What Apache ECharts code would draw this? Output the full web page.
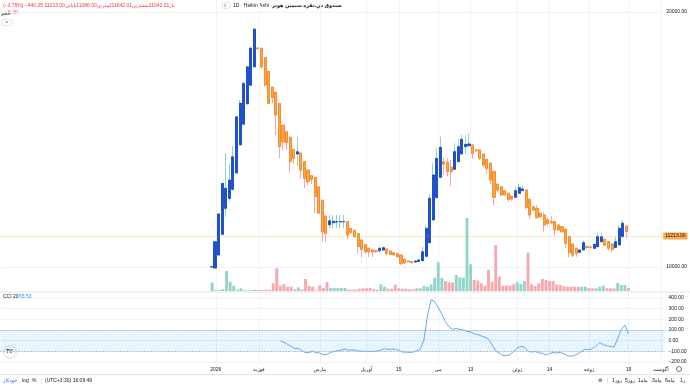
<!DOCTYPE html>
<html>
<head>
<meta charset="utf-8">
<title>Heikin Ashi</title>
<script src="https://cdn.jsdelivr.net/npm/echarts@6.0.0/dist/echarts.min.js"></script>
<style>
  html, body { margin: 0; padding: 0; background: #fff; }
  #main { width: 690px; height: 388px; }
</style>
</head>
<body>
<div id="main"></div>
<script>
// heikin ashi bars: [open, close, low, high]
const candles = [
  [10000, 10010, 9985, 10020], [9960, 10990, 9950, 10990], [10470, 12080, 10470, 12080],
  [11280, 13280, 11280, 13280], [12300, 13090, 11970, 14460], [12690, 13410, 12600, 14070],
  [13050, 14320, 13000, 14750], [13690, 15890, 13690, 15900], [14790, 16420, 14790, 16550],
  [15600, 17200, 15600, 17250], [16400, 17850, 16400, 17850], [17130, 18580, 17130, 18640],
  [17850, 19330, 17850, 19340], [18590, 18560, 18540, 18600], [18580, 17850, 17790, 18580],
  [18210, 17140, 17080, 18210], [17670, 16420, 16420, 17670], [17050, 16650, 16420, 17050],
  [16850, 15960, 15180, 16850], [16410, 14720, 14260, 16410], [15560, 14910, 14590, 15560],
  [15300, 14880, 14590, 15300], [15090, 14130, 13700, 15090], [14610, 14260, 14040, 14610],
  [14430, 14520, 13960, 15085], [14470, 13800, 13480, 14470], [14130, 13480, 13090, 14130],
  [13800, 13350, 13220, 13800], [13580, 13440, 13250, 13580], [13510, 12760, 12110, 13510],
  [13140, 12110, 12110, 13140], [12620, 11380, 10990, 12620], [12000, 11320, 10990, 12000],
  [11660, 11810, 11520, 12040], [11735, 11790, 11520, 12040], [11762, 11778, 11520, 12040],
  [11770, 11780, 11520, 12040], [11775, 11782, 11520, 12040], [11778, 11255, 11086, 11800],
  [11516, 11360, 11300, 11516], [11438, 11190, 11150, 11438], [11314, 10800, 10536, 11314],
  [11057, 10693, 10380, 11057], [10875, 10600, 10500, 10880], [10737, 10600, 10380, 10737],
  [10668, 10590, 10400, 10668], [10630, 10620, 10560, 10680], [10640, 10733, 10560, 10800],
  [10667, 10758, 10620, 10790], [10706, 10536, 10450, 10706], [10627, 10497, 10460, 10627],
  [10560, 10480, 10440, 10560], [10520, 10405, 10380, 10560], [10471, 10144, 10078, 10471],
  [10300, 10160, 10120, 10300], [10230, 10200, 10180, 10250], [10215, 10170, 10150, 10230],
  [10195, 10235, 10190, 10240], [10215, 10275, 10200, 10300], [10245, 10600, 10235, 10797],
  [10420, 11517, 10405, 11608], [10954, 12694, 10954, 12870], [11843, 13608, 11843, 14067],
  [12718, 14262, 12718, 14653], [13517, 14693, 13517, 15111], [14130, 14039, 13608, 14300],
  [14092, 13738, 13550, 14250], [13908, 13738, 13176, 14200], [13830, 14523, 13830, 14849],
  [14130, 14718, 14130, 15007], [14432, 15007, 14432, 15176], [14718, 14810, 14420, 15176],
  [14757, 14824, 14720, 15242], [14784, 14457, 14250, 14800], [14590, 14560, 14520, 14620],
  [14588, 14262, 14200, 14588], [14432, 14000, 13900, 14432], [14222, 13869, 13650, 14222],
  [14067, 13412, 13250, 14120], [13738, 12733, 12431, 13780], [13243, 13020, 12960, 13300],
  [13151, 12824, 12800, 13151], [12994, 12824, 12800, 12994], [12890, 12655, 12550, 12890],
  [12784, 12667, 12600, 12784], [12733, 12994, 12720, 13151], [12890, 13112, 12880, 13255],
  [12994, 13060, 12980, 13190], [13020, 12341, 12260, 13020], [12655, 12039, 11870, 12655],
  [12366, 12235, 12180, 12366], [12302, 11949, 11900, 12420], [12106, 11973, 11940, 12106],
  [12039, 11647, 11384, 12150], [11843, 11713, 11600, 11950], [11780, 11730, 11700, 11990],
  [11777, 11451, 11250, 11777], [11647, 11451, 11420, 11647], [11580, 11385, 11350, 11580],
  [11478, 10928, 10733, 11478], [11190, 10562, 10380, 11190], [10902, 10471, 10380, 10902],
  [10733, 10536, 10400, 10733], [10575, 10667, 10560, 10700], [10667, 10954, 10660, 11040],
  [10800, 10771, 10700, 10850], [10780, 10770, 10720, 10830], [10733, 10889, 10720, 10900],
  [10797, 11190, 10797, 11320], [10992, 11190, 10980, 11320], [11086, 10863, 10800, 11086],
  [10992, 10733, 10650, 10992], [10902, 10693, 10576, 10902], [10758, 10992, 10750, 11190],
  [10863, 11517, 10863, 11647], [11190, 11713, 11164, 11843], [11600, 11390, 11125, 11620]
]

// volume in thousands
const volumes = [
  17, 2, 2, 4, 40, 18.6, 10, 2.6, 5.4, 1.4,
  1.4, 1.4, 2.6, 2, 2, 2.6, 2.6, 15.4, 45.4, 10.6,
  14, 8.6, 8.6, 3.4, 7.4, 3.4, 24, 10, 8.6, 1.4,
  11.4, 6, 18, 6, 6, 6, 6, 6, 2.6, 2.6,
  2.6, 4.6, 5.4, 5.4, 6, 4, 2.6, 13.4, 8.6, 4.6,
  4.6, 12.6, 5.4, 4.6, 4.6, 3.4, 3.4, 5.4, 5.4, 10,
  8.6, 13.4, 26.6, 57.4, 26.6, 20, 17.4, 17.4, 32, 27.4,
  26.6, 146, 53.4, 22, 20.6, 15.4, 10.6, 42, 18.6, 92,
  28.6, 10.6, 10.6, 10.6, 13.4, 17.4, 14, 20, 76.6, 13.4,
  10, 15.4, 24, 22, 20, 20, 13.4, 12, 10, 8.6,
  8.6, 8.6, 8.6, 8.6, 8.6, 6, 5.4, 5.4, 8.6, 10.6,
  5.4, 5.4, 5.4, 16, 12, 12, 6.4
]
// 1 = up day (green volume), 0 = down day
const volumeUp = [
  1, 1, 1, 1, 1, 1, 1, 1, 1, 1, 1, 1, 1, 0, 0, 0, 0, 0, 0, 0,
  0, 0, 0, 0, 1, 0, 0, 0, 0, 0, 0, 0, 0, 1, 1, 1, 1, 1, 0, 0,
  0, 0, 0, 0, 0, 0, 0, 1, 1, 0, 0, 0, 0, 0, 0, 0, 0, 1, 1, 1,
  1, 1, 1, 1, 1, 0, 0, 0, 1, 1, 1, 1, 1, 0, 0, 0, 0, 0, 0, 0,
  0, 0, 0, 0, 0, 1, 1, 1, 0, 0, 0, 0, 0, 0, 0, 0, 0, 0, 0, 0,
  0, 0, 0, 1, 1, 0, 0, 1, 1, 1, 0, 0, 0, 1, 1, 1, 0
]

// CCI(20), undefined for the first 19 bars
const cci = [
  null, null, null, null, null, null, null, null, null, null,
  null, null, null, null, null, null, null, null, null, -2,
  -14, -35, -54, -73, -73, -94, -113, -110, -100, -113,
  -116, -131, -128, -110, -100, -94, -88, -79, -91, -85,
  -91, -97, -100, -100, -103, -100, -97, -91, -73, -85,
  -79, -79, -91, -107, -107, -110, -107, -97, -79, 7,
  238, 383, 367, 309, 247, 176, 130, 106, 115, 106,
  100, 88, 82, 63, 57, 44, 32, 14, -39, -94,
  -116, -140, -140, -131, -100, -69, -54, -60, -100, -107,
  -100, -116, -116, -134, -122, -110, -116, -110, -122, -140,
  -147, -137, -122, -100, -79, -85, -73, -48, -17, -39,
  -48, -54, -60, 23, 106, 146, 65.53
]

const tickLabels = ['2026', 'فوریه', 'مارس', 'آوریل', '15', 'می', '13', 'ژوئن', '14', 'ژوئیه', '19', 'آگوست']
const tickBars = [1, 13, 30, 43, 52, 63, 72, 85, 94, 105, 116, 125]

const lastPrice = 11213
const lastVolume = 6.4
const lastCci = 65.53

const FONT = 'Liberation Sans, DejaVu Sans, sans-serif'
const padLeft = 59
const slotCount = 186
const slots = Array.from({ length: slotCount }, (_, i) => String(i))
const tickMap = {}
tickBars.forEach((b, i) => { tickMap[padLeft + b] = tickLabels[i] })
const isTick = (index) => tickMap[index] !== undefined

const gridBase = { left: 0.4, width: 664 }
const grids = [
  { ...gridBase, top: 12, height: 255 },   // price
  { ...gridBase, top: 211, height: 80 },   // volume overlay
  { ...gridBase, top: 298, height: 64 },   // cci
  { ...gridBase, top: 0, height: 292 },    // vertical lines, main pane
  { ...gridBase, top: 292, height: 73 }    // vertical lines + time labels
]

const gridLineColor = '#f0f3fa'

const xAxes = grids.map((g, i) => {
  const axis = {
    type: 'category',
    gridIndex: i,
    data: slots,
    boundaryGap: false,
    axisLine: { show: false },
    axisTick: { show: false },
    axisLabel: { show: false },
    splitLine: { show: false }
  }
  if (i >= 3) {
    axis.splitLine = { show: true, interval: isTick, lineStyle: { color: gridLineColor, width: 1 } }
  }
  if (i === 4) {
    axis.axisLabel = {
      show: true,
      interval: isTick,
      formatter: (v, idx) => tickMap[idx] || '',
      fontSize: 5,
      color: '#131722',
      fontFamily: FONT,
      margin: 2
    }
  }
  return axis
})

const fmt = (v) => (v < 0 ? '−' : '') + Math.abs(v).toFixed(2)

const yAxes = [
  {
    type: 'value', gridIndex: 0, position: 'right', min: 10000, max: 20000, interval: 10000,
    axisLine: { show: false }, axisTick: { show: false },
    axisLabel: { fontSize: 5, color: '#131722', fontFamily: FONT, margin: 4, formatter: fmt },
    splitLine: { lineStyle: { color: gridLineColor } }
  },
  { type: 'value', gridIndex: 1, min: 0, max: 160, show: false },
  {
    type: 'value', gridIndex: 2, position: 'right', min: -200, max: 400, interval: 100,
    axisLine: { show: false }, axisTick: { show: false },
    axisLabel: { fontSize: 5, color: '#131722', fontFamily: FONT, margin: 4, formatter: fmt },
    splitLine: { lineStyle: { color: gridLineColor } }
  },
  { type: 'value', gridIndex: 3, show: false },
  { type: 'value', gridIndex: 4, show: false }
]

const tagLabel = (text, bg, fg) => ({
  show: true,
  position: 'end',
  distance: 1,
  formatter: text,
  backgroundColor: bg,
  color: fg,
  fontSize: 5,
  fontFamily: FONT,
  padding: [1, 2],
  borderRadius: 1
})

const series = [
  {
    name: 'wicks',
    type: 'candlestick',
    xAxisIndex: 0,
    yAxisIndex: 0,
    barWidth: 2.6,
    clip: false,
    data: candles.map((c, i) => [padLeft + i, c[0], c[1], c[2], c[3]]),
    encode: { x: 0, y: [1, 2, 3, 4] },
    itemStyle: {
      color: 'rgba(0,0,0,0)',
      color0: 'rgba(0,0,0,0)',
      borderColor: '#8fd4c6',
      borderColor0: '#f6a3aa',
      borderWidth: 1
    }
  },
  {
    name: 'bodies',
    type: 'candlestick',
    xAxisIndex: 0,
    yAxisIndex: 0,
    barWidth: 2.6,
    clip: false,
    data: candles.map((c, i) => [padLeft + i, c[0], c[1], Math.min(c[0], c[1]), Math.max(c[0], c[1])]),
    encode: { x: 0, y: [1, 2, 3, 4] },
    itemStyle: {
      color: '#1f4fd6',
      color0: '#ffa646',
      borderColor: '#1442c0',
      borderColor0: '#f5871f',
      borderWidth: 0.8
    },
    markLine: {
      silent: true,
      symbol: ['none', 'none'],
      lineStyle: { color: 'rgba(255,152,0,0.22)', type: 'solid', width: 1 },
      label: tagLabel(lastPrice.toFixed(2), '#ffa94d', '#131722'),
      data: [{ yAxis: lastPrice }]
    }
  },
  {
    name: 'volume',
    type: 'bar',
    xAxisIndex: 1,
    yAxisIndex: 1,
    barWidth: 2.9,
    data: volumes.map((v, i) => ({
      value: [padLeft + i, v],
      itemStyle: { color: volumeUp[i] ? '#92d5c8' : '#f8a9ad' }
    })),
    markLine: {
      silent: true,
      symbol: ['none', 'none'],
      lineStyle: { opacity: 0 },
      label: tagLabel(lastVolume + 'K', '#f23645', '#ffffff'),
      data: [{ yAxis: lastVolume }]
    }
  },
  {
    name: 'CCI',
    type: 'line',
    xAxisIndex: 2,
    yAxisIndex: 2,
    showSymbol: false,
    clip: false,
    lineStyle: { color: '#4ea3f1', width: 0.9 },
    data: cci.map((v, i) => [padLeft + i, v]).filter(d => d[1] !== null),
    markArea: {
      silent: true,
      itemStyle: { color: 'rgba(33,150,243,0.1)' },
      data: [[{ yAxis: 100 }, { yAxis: -100 }]]
    },
    markLine: {
      silent: true,
      symbol: ['none', 'none'],
      data: [
        { yAxis: 100, lineStyle: { color: '#b2b5be', type: [1.5, 1.5], width: 1 }, label: { show: false } },
        { yAxis: -100, lineStyle: { color: '#b2b5be', type: [1.5, 1.5], width: 1 }, label: { show: false } },
        { yAxis: lastCci, lineStyle: { opacity: 0 }, label: tagLabel(lastCci.toFixed(2), '#2196f3', '#ffffff') }
      ]
    }
  }
]

const txt = (x, y, text, color, extra) => ({
  type: 'text', x, y, silent: true,
  style: Object.assign({ text, fill: color, font: '5px ' + FONT, textVerticalAlign: 'middle' }, extra || {})
})

const graphic = [
  {
    type: 'text', x: 3, y: 5.5, silent: true,
    style: {
      text: '{r|(−3.78%) −440.25 11213.00}{r|پایانی}{r|11086.00}{r|کمترین}{r|11642.01}{r|بیشترین}{r|11642.01}{r|باز}',
      textVerticalAlign: 'middle',
      font: '5px ' + FONT,
      rich: { r: { fill: '#f23645', font: '5px ' + FONT } }
    }
  },
  { type: 'rect', shape: { x: 222.5, y: 2.5, width: 7, height: 6, r: 1 }, style: { fill: '#fff', stroke: '#d1d4dc', lineWidth: 0.6 } },
  txt(224, 5.5, '≡', '#131722', { font: '4px ' + FONT }),
  txt(233, 5.5, '1D · Heikin Ashi ·', '#131722'),
  txt(272, 5.5, 'صندوق س.نقره سیمین هونر', '#131722', { font: 'bold 5px ' + FONT }),
  txt(1, 13.5, 'حجم', '#131722'),
  txt(8, 13, '6.4K', '#f23645'),
  { type: 'rect', shape: { x: 2, y: 19.5, width: 10, height: 6, r: 1 }, style: { fill: '#fff', stroke: '#d1d4dc', lineWidth: 0.6 } },
  txt(5.5, 23.5, '^', '#131722'),
  // pane separator
  { type: 'line', shape: { x1: 0, y1: 292, x2: 690, y2: 292 }, style: { stroke: '#e0e3eb', lineWidth: 1 } },
  txt(3, 297, 'CCI 20', '#131722'),
  txt(19, 297, '65.53', '#2196f3'),
  // tradingview badge
  { type: 'circle', shape: { cx: 10, cy: 352, r: 6 }, style: { fill: '#fff', stroke: '#e0e3eb', lineWidth: 0.6, shadowBlur: 2, shadowColor: 'rgba(0,0,0,0.15)' } },
  txt(6.3, 352, 'TV', '#131722', { font: 'bold 5px ' + FONT }),
  { type: 'circle', shape: { cx: 679, cy: 369, r: 2.5 }, style: { fill: 'none', stroke: '#131722', lineWidth: 0.6 } },
  // bottom toolbar
  { type: 'line', shape: { x1: 0, y1: 374.5, x2: 690, y2: 374.5 }, style: { stroke: '#e0e3eb', lineWidth: 1 } },
  txt(3, 381, 'خودکار', '#2962ff'),
  txt(22, 381, 'log', '#131722'),
  txt(32, 381, '%', '#131722'),
  { type: 'line', shape: { x1: 41.5, y1: 378, x2: 41.5, y2: 384 }, style: { stroke: '#d1d4dc', lineWidth: 0.6 } },
  txt(45, 381, '(UTC+3:30) 16:09:49', '#131722'),
  txt(598, 381, '⚙', '#131722'),
  { type: 'line', shape: { x1: 607.5, y1: 378, x2: 607.5, y2: 384 }, style: { stroke: '#d1d4dc', lineWidth: 0.6 } },
  txt(612, 381, '1روز', '#131722'),
  txt(625, 381, '5روز', '#131722'),
  txt(638, 381, '1ماه', '#131722'),
  txt(652, 381, '3ماه', '#131722'),
  txt(665, 381, '6ماه', '#131722'),
  txt(680, 381, '1ر', '#131722')
]

const chart = echarts.init(document.getElementById('main'), null, { renderer: 'canvas' })
chart.setOption({
  animation: false,
  backgroundColor: '#ffffff',
  textStyle: { fontFamily: FONT },
  grid: grids,
  xAxis: xAxes,
  yAxis: yAxes,
  series,
  graphic
})
</script>
</body>
</html>
